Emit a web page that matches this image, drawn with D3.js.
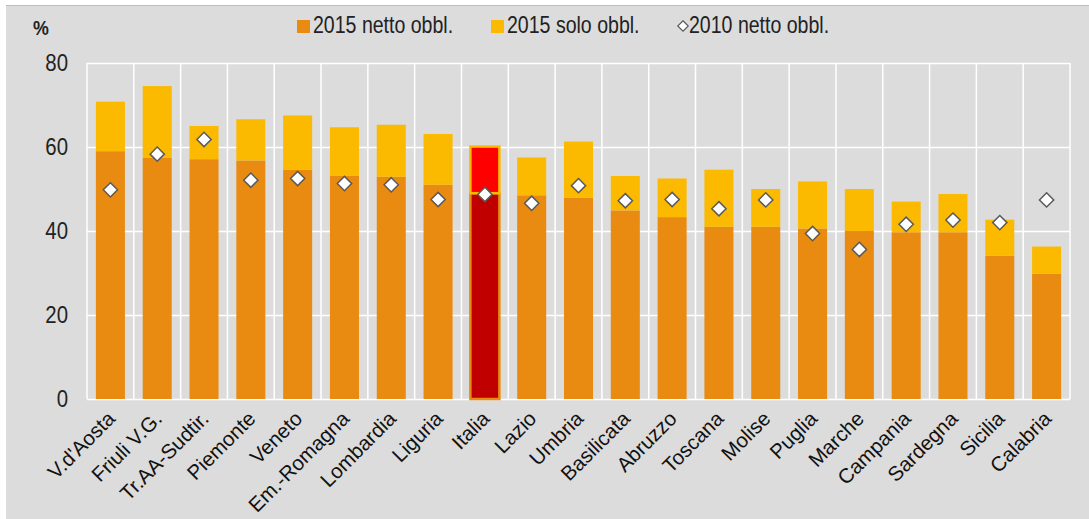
<!DOCTYPE html>
<html>
<head>
<meta charset="utf-8">
<script src="https://cdn.jsdelivr.net/npm/d3@7"></script>
<style>
  body { margin: 0; background: #fff; }
  svg { display: block; }
  text { font-family: "Liberation Sans", Arial, sans-serif; }
</style>
</head>
<body>
<div id="chart"></div>
<script>
//categories and values//
var categories = ["V.d'Aosta", "Friuli V.G.", "Tr.AA-Sudtir.", "Piemonte", "Veneto", "Em.-Romagna",
  "Lombardia", "Liguria", "Italia", "Lazio", "Umbria", "Basilicata", "Abruzzo", "Toscana",
  "Molise", "Puglia", "Marche", "Campania", "Sardegna", "Sicilia", "Calabria"];

//2015 netto obbl. (lower segment)//
var netto2015 = [59.0, 57.5, 57.1, 56.8, 54.6, 53.2, 52.9, 51.0, 49.0, 48.5, 47.9,
  44.9, 43.3, 41.0, 41.0, 40.6, 40.0, 39.7, 39.7, 34.1, 29.8];

//2015 solo obbl. (upper segment, stacked on top)//
var solo2015 = [11.8, 17.0, 7.9, 9.8, 12.9, 11.5, 12.4, 12.1, 11.1, 9.0, 13.4,
  8.2, 9.2, 13.6, 9.0, 11.2, 10.0, 7.3, 9.1, 8.6, 6.5];

//2010 netto obbl. (diamonds)//
var netto2010 = [49.8, 58.3, 61.8, 52.1, 52.5, 51.3, 51.0, 47.5, 48.7, 46.6, 50.8,
  47.2, 47.5, 45.3, 47.4, 39.4, 35.6, 41.6, 42.6, 42.0, 47.4];

var yTicks = [0, 20, 40, 60, 80];
var seriesNames = ["2015 netto obbl.", "2015 solo obbl.", "2010 netto obbl."];

var W = 1089, H = 519;
var colNetto = "#e88b10", colSolo = "#fbb900";
var colItaliaNetto = "#c00000", colItaliaSolo = "#ff0000";
var narrow = 0.85; //the original font is condensed, squeeze the text horizontally//

var svg = d3.select("#chart").append("svg")
  .attr("width", W)
  .attr("height", H);

//grey panel//
svg.append("rect")
  .attr("x", 6).attr("y", 5)
  .attr("width", W - 6).attr("height", H - 5)
  .attr("fill", "#dcdcdc");
svg.append("line")
  .attr("x1", 6).attr("x2", W).attr("y1", 5.5).attr("y2", 5.5)
  .attr("stroke", "#bcbcbc");

var x = d3.scaleBand()
  .domain(categories)
  .range([87, 1070])
  .paddingInner(0.38)
  .paddingOuter(0.19);

var y = d3.scaleLinear()
  .domain([0, 80])
  .range([399, 63]);

//horizontal gridlines//
svg.append("g")
  .attr("transform", "translate(" + x.range()[0] + ",0)")
  .call(d3.axisLeft(y).tickValues(yTicks).tickSize(-(x.range()[1] - x.range()[0])).tickFormat(""))
  .call(function(g) { g.select(".domain").remove(); })
  .selectAll("line")
  .attr("stroke", "#fff")
  .attr("stroke-width", 1.5);

//vertical gridlines at category boundaries//
var gap = (x.step() - x.bandwidth()) / 2;
var bounds = categories.map(function(c) { return x(c) - gap; }).concat([x.range()[1]]);
svg.append("g").selectAll("line")
  .data(bounds)
  .enter()
  .append("line")
  .attr("x1", function(d) { return d; })
  .attr("x2", function(d) { return d; })
  .attr("y1", y(80))
  .attr("y2", y(0))
  .attr("stroke", "#fff")
  .attr("stroke-width", 1.5);

//y tick labels, drawn by hand so they can be condensed//
svg.append("g").selectAll("text")
  .data(yTicks)
  .enter()
  .append("text")
  .attr("transform", function(d) { return "translate(68," + y(d) + ") scale(" + narrow + ",1)"; })
  .attr("dy", "0.35em")
  .attr("text-anchor", "end")
  .attr("font-size", "24px")
  .attr("fill", "#222")
  .text(function(d) { return d; });

svg.append("text")
  .attr("transform", "translate(33,35) scale(" + narrow + ",1)")
  .attr("font-size", "21px")
  .attr("font-weight", "bold")
  .attr("fill", "#222")
  .text("%");

//stacked bars//
var rows = categories.map(function(c, i) {
  return {cat: c, netto: netto2015[i], solo: solo2015[i]};
});
var stack = d3.stack().keys(["netto", "solo"]);
var layers = stack(rows);

var layerG = svg.append("g").selectAll("g")
  .data(layers)
  .enter()
  .append("g");

layerG.selectAll("rect")
  .data(function(d) {
    return d.map(function(p) { return {key: d.key, cat: p.data.cat, y0: p[0], y1: p[1]}; });
  })
  .enter()
  .append("rect")
  .attr("x", function(d) { return x(d.cat); })
  .attr("width", x.bandwidth())
  .attr("y", function(d) { return y(d.y1); })
  .attr("height", function(d) { return y(d.y0) - y(d.y1); })
  .attr("fill", function(d) {
    if (d.cat == "Italia") return d.key == "netto" ? colItaliaNetto : colItaliaSolo;
    return d.key == "netto" ? colNetto : colSolo;
  })
  .attr("stroke", function(d) {
    if (d.cat == "Italia") return d.key == "netto" ? colNetto : colSolo;
    return "none";
  })
  .attr("stroke-width", 2.5);

//2010 diamonds//
var diamond = d3.symbol().type(d3.symbolDiamond2).size(130);
svg.append("g").selectAll("path")
  .data(categories)
  .enter()
  .append("path")
  .attr("d", diamond)
  .attr("transform", function(d, i) {
    return "translate(" + (x(d) + x.bandwidth() / 2) + "," + y(netto2010[i]) + ")";
  })
  .attr("fill", "#fff")
  .attr("stroke", "#5a5a5a")
  .attr("stroke-width", 1.5);

//x labels rotated//
svg.append("g").selectAll("text")
  .data(categories)
  .enter()
  .append("text")
  .attr("transform", function(d) {
    return "translate(" + (x(d) + x.bandwidth() / 2 + 6) + "," + (y(0) + 21) + ") rotate(-45)";
  })
  .attr("text-anchor", "end")
  .attr("font-size", "20.5px")
  .attr("fill", "#111")
  .text(function(d) { return d; });

//legend//
var legend = svg.append("g");
var legX = [297, 491, 680];
legend.selectAll("rect")
  .data([colNetto, colSolo])
  .enter()
  .append("rect")
  .attr("x", function(d, i) { return legX[i]; })
  .attr("y", 20)
  .attr("width", 13)
  .attr("height", 13)
  .attr("fill", function(d) { return d; });

legend.append("path")
  .attr("d", d3.symbol().type(d3.symbolDiamond2).size(70))
  .attr("transform", "translate(" + (legX[2] + 3) + ",26)")
  .attr("fill", "#fff")
  .attr("stroke", "#5a5a5a")
  .attr("stroke-width", 1.2);

legend.selectAll("text")
  .data(seriesNames)
  .enter()
  .append("text")
  .attr("transform", function(d, i) {
    return "translate(" + (legX[i] + (i == 2 ? 9 : 16)) + ",33) scale(" + narrow + ",1)";
  })
  .attr("font-size", "23px")
  .attr("fill", "#222")
  .text(function(d) { return d; });
</script>
</body>
</html>
